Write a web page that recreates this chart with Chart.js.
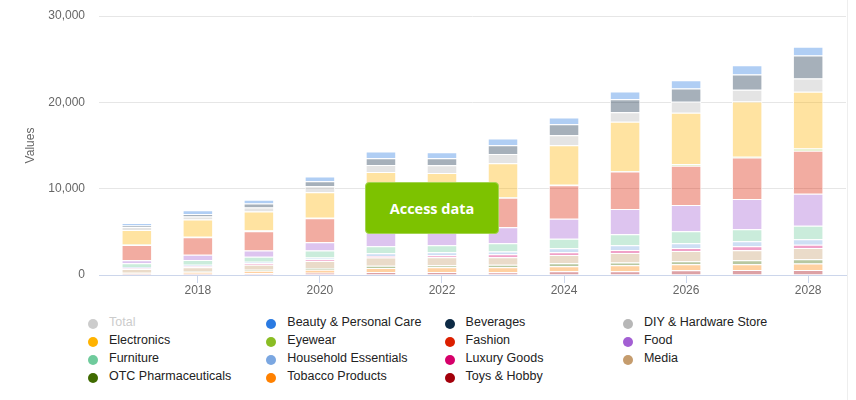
<!DOCTYPE html>
<html>
<head>
<meta charset="utf-8">
<script src="https://cdn.jsdelivr.net/npm/chart.js@4"></script>
<style>
    body { margin: 0; background: #fff; }
    #wrap { position: relative; width: 856px; height: 400px; overflow: hidden; }
    #edge { position: absolute; left: 847px; top: 0; width: 1px; height: 400px; background: #eeeeee; }
    #access {
        position: absolute; left: 365px; top: 182px; width: 132px; height: 50px;
        background: #7dc200; border: 1px solid #a3d451; border-radius: 4px;
        color: #fff; font: bold 14.5px "Open Sans", sans-serif;
        display: flex; align-items: center; justify-content: center; cursor: pointer;
    }
    .item {
        position: absolute; height: 18px; line-height: 18px; white-space: nowrap;
        font: 12.5px "Liberation Sans", Arial, sans-serif; color: #222; cursor: pointer;
    }
    .item i { position: absolute; left: -21px; top: 4px; width: 10px; height: 10px; border-radius: 50%; }
    .item.off { color: #cccccc; }
    .item.off i { background: #cccccc !important; }
</style>
</head>
<body>
<div id="wrap">
    <canvas id="chart" width="856" height="300"></canvas>
    <div id="edge"></div>
    <div id="access">Access data</div>
    <div id="legend"></div>
</div>
<script>
let years = [2017, 2018, 2019, 2020, 2021, 2022, 2023, 2024, 2025, 2026, 2027, 2028];
let xTicks = [2018, 2020, 2022, 2024, 2026, 2028];
let yTicks = [0, 10000, 20000, 30000];

// series in legend order (first one sits on top of the stack)
let seriesNames = ['Total', 'Beauty & Personal Care', 'Beverages', 'DIY & Hardware Store', 'Electronics',
    'Eyewear', 'Fashion', 'Food', 'Furniture', 'Household Essentials', 'Luxury Goods', 'Media',
    'OTC Pharmaceuticals', 'Tobacco Products', 'Toys & Hobby'];
let seriesColours = ['#c8c8c8', '#2a7ae2', '#0d2a45', '#b7b7b7', '#ffb300', '#8abd24', '#dc1f00',
    '#a35fd3', '#6fcb9c', '#7ba7e1', '#d6006a', '#c59c6d', '#3f6a00', '#ff8100', '#a3000b'];

let total       = [6050, 7560, 8760, 11440, 14300, 14230, 15740, 18180, 21200, 22560, 24310, 26440];
let beauty      = [270, 430, 430, 540, 775, 700, 775, 775, 890, 970, 1090, 1010];
let beverages   = [190, 310, 470, 580, 775, 815, 1010, 1280, 1510, 1510, 1740, 2680];
let diy         = [350, 350, 470, 700, 810, 890, 1090, 1160, 1120, 1280, 1360, 1510];
let electronics = [1680, 1980, 2210, 2950, 3765, 3685, 3920, 4570, 5700, 5930, 6400, 6590];
let eyewear     = [40, 60, 70, 70, 50, 50, 60, 60, 60, 230, 100, 270];
let fashion     = [1770, 2020, 2250, 2790, 3200, 3100, 3410, 3880, 4340, 4540, 4810, 4960];
let food        = [350, 620, 700, 930, 1600, 1550, 1860, 2330, 2910, 3020, 3490, 3720];
let furniture   = [430, 540, 580, 810, 810, 810, 970, 1090, 1280, 1400, 1400, 1550];
let household   = [150, 190, 190, 230, 310, 350, 310, 465, 540, 540, 580, 660];
let luxury      = [100, 120, 155, 190, 190, 230, 350, 310, 350, 350, 465, 350];
let media       = [430, 470, 580, 810, 930, 930, 850, 970, 1120, 1200, 1160, 1320];
let otc         = [40, 70, 120, 190, 270, 230, 310, 350, 310, 350, 465, 500];
let tobacco     = [60, 190, 310, 350, 465, 540, 580, 580, 700, 700, 660, 740];
let toys        = [155, 155, 190, 270, 350, 350, 310, 430, 430, 540, 580, 580];

let seriesValues = [total, beauty, beverages, diy, electronics, eyewear, fashion, food,
    furniture, household, luxury, media, otc, tobacco, toys];

function fade(hex, alpha) {
    let r = parseInt(hex.substr(1, 2), 16), g = parseInt(hex.substr(3, 2), 16), b = parseInt(hex.substr(5, 2), 16);
    return 'rgba(' + r + ',' + g + ',' + b + ',' + alpha + ')';
}

Chart.defaults.font.family = '"Liberation Sans", Arial, sans-serif';
Chart.defaults.font.size = 12;
Chart.defaults.color = '#666666';

// Chart.js stacks from the first dataset upwards, so build them bottom first
let datasets = [];
for (var i = seriesNames.length - 1; i >= 1; i--) {
    datasets.push({
        label: seriesNames[i],
        data: years.map((y, k) => ({ x: y, y: seriesValues[i][k] })),
        backgroundColor: fade(seriesColours[i], 0.37),
        borderColor: '#ffffff',
        borderWidth: 1
    });
}
datasets.push({
    label: seriesNames[0],
    data: years.map((y, k) => ({ x: y, y: total[k] })),
    backgroundColor: fade(seriesColours[0], 0.37),
    borderColor: '#ffffff',
    borderWidth: 1,
    hidden: true
});

let chart = new Chart(document.getElementById('chart'), {
    type: 'bar',
    data: { datasets: datasets },
    options: {
        responsive: false,
        animation: false,
        layout: { padding: { top: 16, right: 10, left: 0, bottom: 0 } },
        datasets: { bar: { barPercentage: 0.5, categoryPercentage: 1 } },
        plugins: { legend: { display: false }, tooltip: { enabled: true } },
        scales: {
            x: {
                type: 'linear',
                stacked: true,
                offset: false,
                bounds: 'data',
                min: 2016.38,
                max: 2028.62,
                afterFit: scale => { scale.height = 25; },
                afterBuildTicks: scale => { scale.ticks = xTicks.map(v => ({ value: v })); },
                ticks: { stepSize: 2, includeBounds: false, padding: 0, color: '#666666', callback: v => String(v) },
                grid: { offset: false, drawOnChartArea: false, drawTicks: true, tickLength: 8, color: '#ccd6eb' },
                border: { display: true, color: '#ccd6eb' }
            },
            y: {
                stacked: true,
                min: 0,
                max: 30000,
                afterFit: scale => { scale.width = 99; scale.paddingTop = 0; scale.paddingBottom = 0; },
                afterBuildTicks: scale => { scale.ticks = yTicks.map(v => ({ value: v })); },
                ticks: { padding: 14, color: '#666666', callback: v => v.toLocaleString('en-US') },
                grid: { drawTicks: false, color: ctx => ctx.tick && ctx.tick.value === 0 ? 'rgba(0,0,0,0)' : '#e6e6e6' },
                border: { display: false },
                title: { display: true, text: 'Values', color: '#666666', font: { size: 12 }, padding: { top: 23, bottom: 0 } }
            }
        }
    }
});

// legend laid out in four columns like the original
let legend = document.getElementById('legend');
for (var n = 0; n < seriesNames.length; n++) {
    let col = n % 4, row = Math.floor(n / 4);
    let item = document.createElement('div');
    item.className = 'item';
    item.style.left = (109 + col * 178.3) + 'px';
    item.style.top = (315 + row * 18) + 'px';
    item.innerHTML = '<i style="background:' + seriesColours[n] + '"></i>' + seriesNames[n].replace('&', '&amp;');
    let dsIndex = n === 0 ? datasets.length - 1 : seriesNames.length - 1 - n;
    if (!chart.isDatasetVisible(dsIndex)) item.classList.add('off');
    item.addEventListener('click', function () {
        chart.setDatasetVisibility(dsIndex, !chart.isDatasetVisible(dsIndex));
        item.classList.toggle('off', !chart.isDatasetVisible(dsIndex));
        chart.update();
    });
    legend.appendChild(item);
}
</script>
</body>
</html>
